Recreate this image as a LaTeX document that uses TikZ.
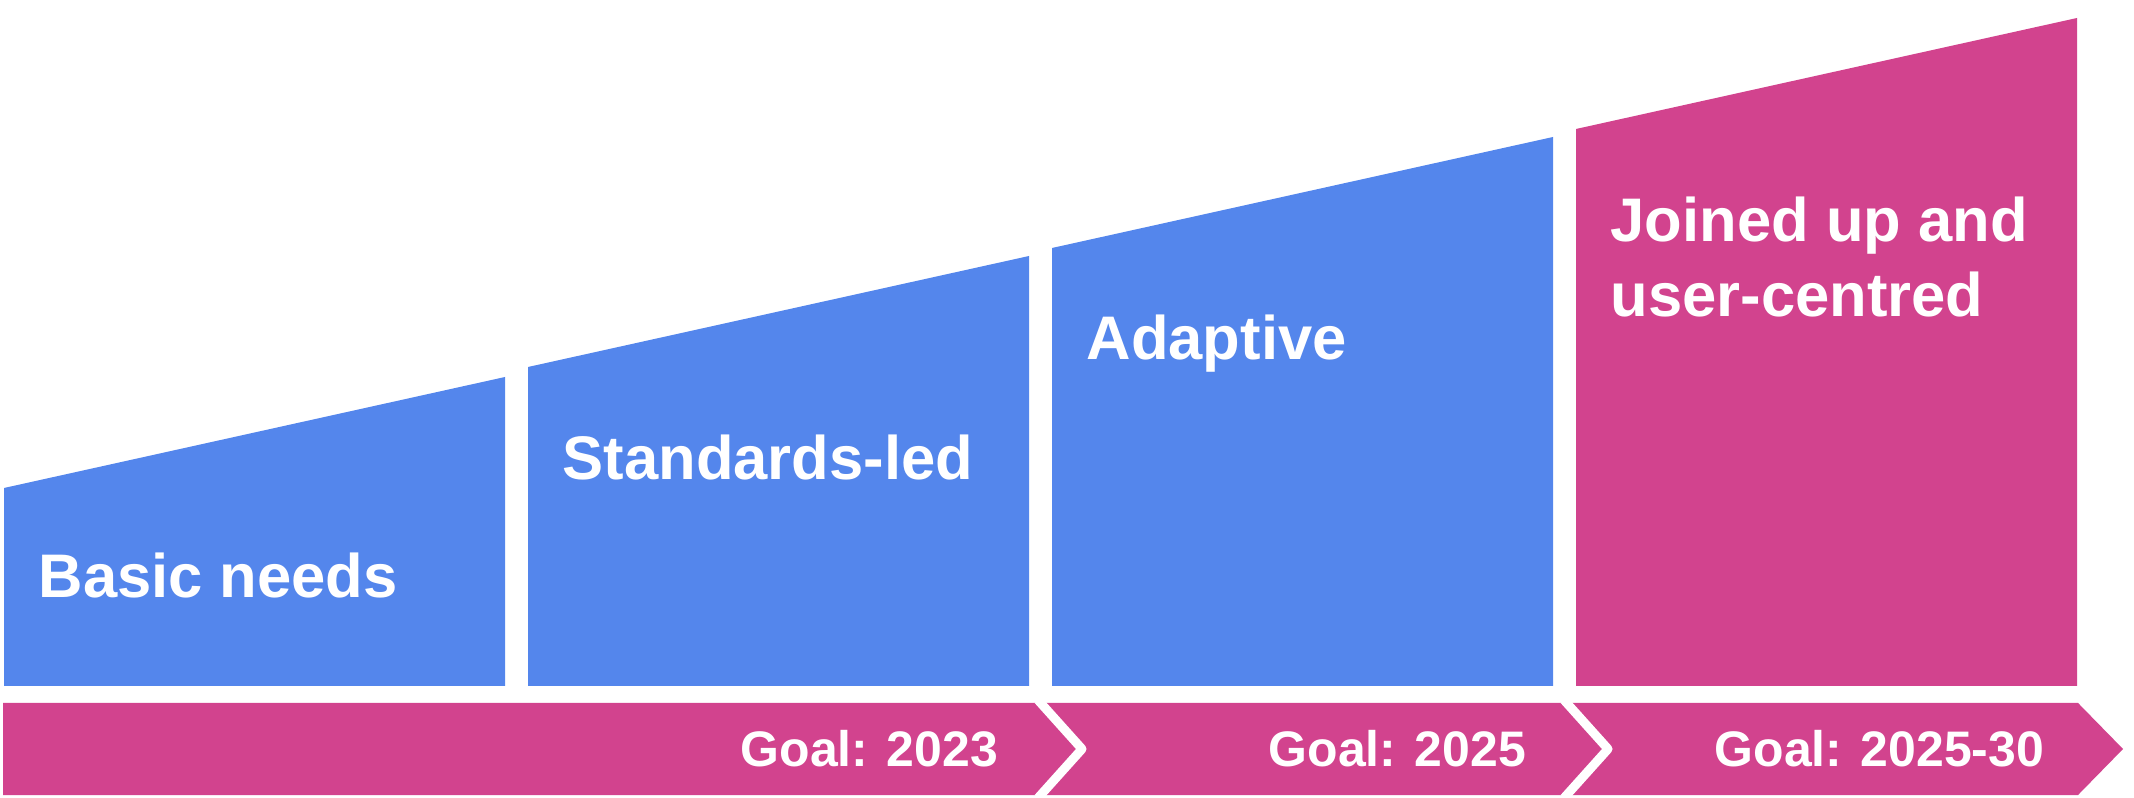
\documentclass[tikz,border=0pt]{standalone}
\usepackage{fontspec}
\setmainfont{Liberation Sans}
\usepackage{tikz}
\usetikzlibrary{calc}
\usepackage{xcolor}

\definecolor{stageblue}{RGB}{84,134,236}
\definecolor{stagepink}{RGB}{210,67,142}

\begin{document}
\begin{tikzpicture}[x=0.01cm, y=-0.01cm,
  stagelabel/.style={color=white, font=\bfseries\fontsize{17.5}{21.5}\selectfont, anchor=base west, inner sep=0pt, align=left},
  goallabel/.style={color=white, font=\bfseries\fontsize{14.2}{17}\selectfont, anchor=base west, inner sep=0pt}]
\useasboundingbox (0,0) rectangle (2134,798);

% the four stages
\fill[stageblue] (4,686) -- (4,488) -- (505,377) -- (505,686) -- cycle;
\fill[stageblue] (528,686) -- (528,367) -- (1029,256) -- (1029,686) -- cycle;
\fill[stageblue] (1052,686) -- (1052,248) -- (1553,137) -- (1553,686) -- cycle;
\fill[stagepink] (1576,686) -- (1576,129) -- (2077,18) -- (2077,686) -- cycle;

\node[stagelabel] (basic) at (38,598) {Basic needs};
\node[stagelabel] (standards) at (562,480) {Standards-led};
\node[stagelabel] (adaptive) at (1086,360) {Adaptive};
\node[stagelabel] (joined) at (1610,317) {Joined up and\\user-centred};

% goal bar
\fill[stagepink] (3,703) -- (2078,703) -- (2123,749) -- (2078,795) -- (3,795) -- cycle;

\draw[white, line width=0.09cm, line join=round] (1038,700) -- (1082,749) -- (1038,798);
\draw[white, line width=0.09cm, line join=round] (1564,700) -- (1608,749) -- (1564,798);

\node[goallabel] (goal23) at (740,767) {Goal: 2023};
\node[goallabel] (goal25) at (1268,767) {Goal: 2025};
\node[goallabel] (goal30) at (1714,767) {Goal: 2025-30};

\end{tikzpicture}
\end{document}
